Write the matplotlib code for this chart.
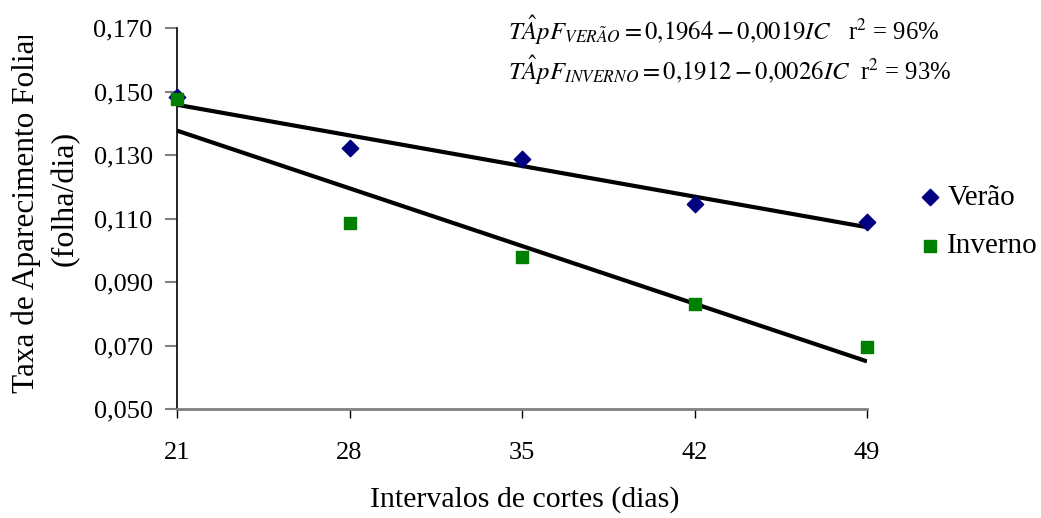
import numpy as np
import matplotlib
matplotlib.use("Agg")
import matplotlib.pyplot as plt
from matplotlib.ticker import FuncFormatter
from matplotlib.transforms import Bbox

plt.rcParams['font.family'] = ['Liberation Serif', 'DejaVu Serif']
plt.rcParams['mathtext.fontset'] = 'stix'

# data
intervalos = [21, 28, 35, 42, 49]
verao = [0.1483, 0.1322, 0.1287, 0.1146, 0.1089]
inverno = [0.1476, 0.1086, 0.0979, 0.0831, 0.0695]
y_ticks = [0.050, 0.070, 0.090, 0.110, 0.130, 0.150, 0.170]

W, H = 1041, 518
fig = plt.figure(figsize=(W / 100, H / 100), dpi=100)
ax = fig.add_axes([177 / W, 1 - 409 / H, (867 - 177) / W, (409 - 28) / H])

ax.scatter(intervalos, verao, marker='D', s=70, color='#000080', zorder=3,
           clip_on=False, label='Verão')
ax.scatter(intervalos, inverno, marker='s', s=80, color='#008000', zorder=4,
           clip_on=False, label='Inverno')

# linear trend lines
x = np.array(intervalos, dtype=float)
for serie in (verao, inverno):
    b, a = np.polyfit(x, serie, 1)
    ax.plot([x[0], x[-1]], [a + b * x[0], a + b * x[-1]], color='black',
            lw=3.0, zorder=2, solid_capstyle='butt')

ax.set_xlim(21, 49)
ax.set_ylim(0.050, 0.170)
ax.set_xticks(intervalos)
ax.set_yticks(y_ticks)
ax.yaxis.set_major_formatter(FuncFormatter(lambda v, p: f"{v:.3f}".replace('.', ',')))

for s in ('top', 'right'):
    ax.spines[s].set_visible(False)
ax.spines['left'].set_color('black')
ax.spines['left'].set_linewidth(1.2)
ax.spines['bottom'].set_color('#808080')
ax.spines['bottom'].set_linewidth(2)
ax.spines['bottom'].set_bounds(21, 49)

ax.tick_params(axis='y', direction='out', length=8.5, width=1.5, color='#808080',
               labelsize=19, pad=9)
ax.tick_params(axis='x', direction='out', length=6.5, width=1, color='black',
               labelsize=19, pad=17)

t1 = fig.text(26 / W, 1 - 211 / H, 'Taxa de Aparecimento Foliar', rotation=90,
              ha='center', va='center', fontsize=22.5)
# the reference cuts the top of this label
t1.set_clip_box(Bbox.from_extents(0, 0, W, H - 36))
t1.set_clip_on(True)
fig.text(65 / W, 1 - 198 / H, '(folha/dia)', rotation=90,
         ha='center', va='center', fontsize=23)
fig.text(525 / W, 1 - 500 / H, 'Intervalos de cortes (dias)',
         ha='center', va='center', fontsize=21.5)

fig.text(508 / W, 1 - 30 / H,
         r'$T\hat{A}pF_{VER\tilde{A}O} = 0{,}1964 - 0{,}0019IC$   r$^2$ = 96%',
         ha='left', va='center', fontsize=17.8)
fig.text(508 / W, 1 - 70 / H,
         r'$T\hat{A}pF_{INVERNO} = 0{,}1912 - 0{,}0026IC$  r$^2$ = 93%',
         ha='left', va='center', fontsize=17.8)

ax.legend(loc='center left', bbox_to_anchor=(889 / W, 1 - 222 / H),
          bbox_transform=fig.transFigure, frameon=False, fontsize=21,
          handletextpad=0.1, labelspacing=0.75, handlelength=1.0,
          markerscale=1.0)

fig.savefig('out.png', dpi=100)
